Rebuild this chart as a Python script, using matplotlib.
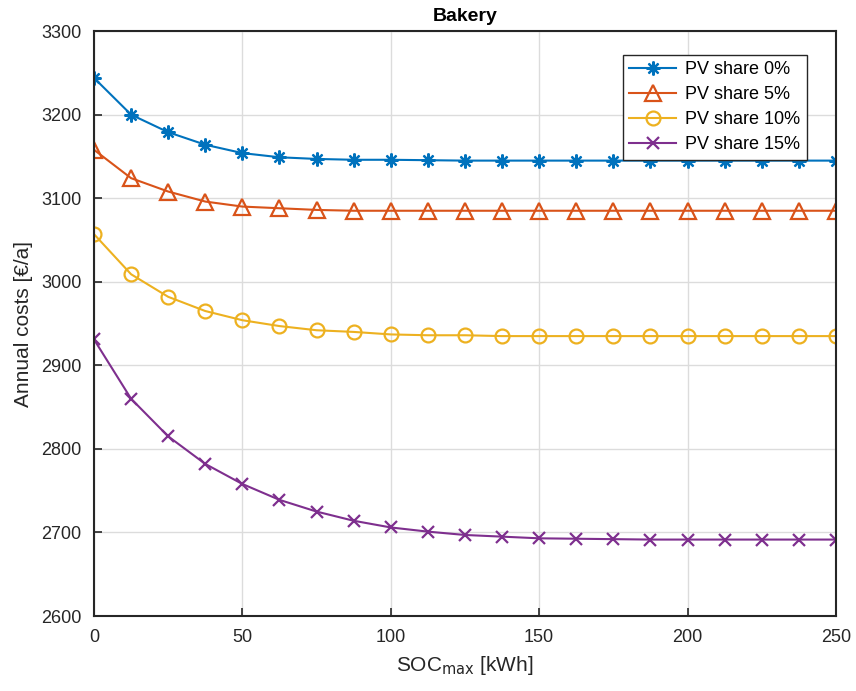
import numpy as np
import matplotlib
matplotlib.use('Agg')
import matplotlib.pyplot as plt

plt.rcParams['font.family'] = ['Liberation Sans', 'DejaVu Sans']

######## data: annual costs vs. battery size
soc_max = np.arange(0, 250.1, 12.5)

pv0 = [3244, 3200, 3179, 3164, 3154, 3149, 3147, 3146, 3146, 3145.5, 3145, 3145,
       3145, 3145, 3145, 3145, 3145, 3145, 3145, 3145, 3145]
pv5 = [3158, 3124, 3108, 3096, 3090, 3088, 3086, 3085, 3085, 3085, 3085, 3085,
       3085, 3085, 3085, 3085, 3085, 3085, 3085, 3085, 3085]
pv10 = [3057, 3009, 2982, 2965, 2954, 2947, 2942, 2940, 2937, 2936, 2936, 2935,
        2935, 2935, 2935, 2935, 2935, 2935, 2935, 2935, 2935]
pv15 = [2931, 2860, 2815, 2782, 2758, 2739, 2725, 2714, 2706, 2701, 2697, 2695,
        2693, 2692.5, 2692, 2691.5, 2691.5, 2691.5, 2691.5, 2691.5, 2691.5]

labels = ['PV share 0%', 'PV share 5%', 'PV share 10%', 'PV share 15%']
colors = ['#0072BD', '#D95319', '#EDB120', '#7E2F8E']
# asterisk (8 arms), triangle, circle, cross
markers = [(8, 2, 0), '^', 'o', 'x']
msizes = [10, 11, 10, 9]

### draw
fig = plt.figure(figsize=(8.56, 6.91), dpi=100)
ax = fig.add_axes([0.1098, 0.1085, 0.8668, 0.8465])

for y, lab, c, m, ms in zip([pv0, pv5, pv10, pv15], labels, colors, markers, msizes):
    ax.plot(soc_max, y, color=c, marker=m, markersize=ms, linewidth=1.5,
            markerfacecolor='none', markeredgewidth=1.6, label=lab)

ax.set_xlim(0, 250)
ax.set_ylim(2600, 3300)
ax.set_xticks(np.arange(0, 251, 50))
ax.set_yticks(np.arange(2600, 3301, 100))
ax.grid(True, color='#dcdcdc', linewidth=1)
ax.set_axisbelow(True)
ax.tick_params(direction='in', length=6, width=1.2, labelsize=13, colors='#262626',
               pad=9)
for s in ax.spines.values():
    s.set_linewidth(1.5)
    s.set_color('#262626')

ax.set_title('Bakery', fontsize=14, fontweight='bold', pad=7)
ax.set_xlabel(r'SOC$_{\mathrm{max}}$ [kWh]', fontsize=15, color='#262626', labelpad=6)
ax.set_ylabel('Annual costs [€/a]', fontsize=15, color='#262626', labelpad=6)

leg = ax.legend(loc='upper right', bbox_to_anchor=(0.973, 0.975), fontsize=13,
                fancybox=False, framealpha=1, edgecolor='#262626',
                handlelength=2.6, handletextpad=0.5, borderpad=0.35,
                labelspacing=0.45)
leg.get_frame().set_linewidth(1)

fig.savefig('out.png', dpi=100)
